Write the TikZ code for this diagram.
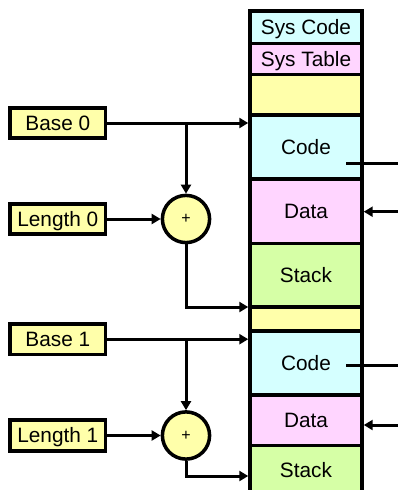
\documentclass[tikz,border=0pt]{standalone}
\usepackage{fontspec}
\setmainfont{Liberation Sans}
\usetikzlibrary{calc}
\usetikzlibrary{arrows.meta}

\definecolor{codefill}{RGB}{213,255,255}
\definecolor{datafill}{RGB}{255,213,255}
\definecolor{freefill}{RGB}{255,255,170}
\definecolor{stackfill}{RGB}{214,255,166}

\tikzset{
  seg/.style={draw, line width=3.75pt, minimum width=111.7pt, inner sep=0pt,
    text height=14.9pt, text depth=0pt, font=\fontsize{20.8}{24}\selectfont},
  reg/.style={draw, line width=3.75pt, fill=freefill, minimum width=95.2pt,
    minimum height=30.5pt, inner sep=0pt, text height=14.9pt, text depth=0pt,
    font=\fontsize{20.8}{24}\selectfont},
  adder/.style={circle, draw, line width=3.5pt, fill=freefill, minimum size=47.2pt,
    inner sep=0pt, font=\fontsize{16}{18}\selectfont},
  link/.style={line width=3pt},
  arr/.style={link, -{Triangle[length=9pt,width=10pt]}},
}

\begin{document}
\begin{tikzpicture}[x=1pt,y=-1pt]
    \useasboundingbox (0,0) rectangle (398,490);
    \clip (0,0) rectangle (398,490);
    % memory column
    \node[seg, fill=codefill,  minimum height=32.5pt] (syscode)  at (306,  27.25) {Sys Code};
    \node[seg, fill=datafill,  minimum height=31pt]   (systable) at (306,  59)    {Sys Table};
    \node[seg, fill=freefill,  minimum height=40.5pt] (free0)    at (306,  94.75) {};
    \node[seg, fill=codefill,  minimum height=63.7pt] (code0)    at (306, 146.85) {Code};
    \node[seg, fill=datafill,  minimum height=64.8pt] (data0)    at (306, 211.1)  {Data};
    \node[seg, fill=stackfill, minimum height=63.5pt] (stack0)   at (306, 275.25) {Stack};
    \node[seg, fill=freefill,  minimum height=24pt]   (free1)    at (306, 319)    {};
    \node[seg, fill=codefill,  minimum height=63.7pt] (code1)    at (306, 362.85) {Code};
    \node[seg, fill=datafill,  minimum height=50.8pt] (data1)    at (306, 420.1)  {Data};
    \node[seg, fill=stackfill, minimum height=49pt]   (stack1)   at (306, 470)    {Stack};
    % registers and adders
    \node[reg] (base0) at (57.8, 123)   {Base 0};
    \node[reg] (len0)  at (57.8, 219)   {Length 0};
    \node[reg] (base1) at (57.8, 339.2) {Base 1};
    \node[reg] (len1)  at (57.8, 435.5) {Length 1};
    \node[adder] (sum0) at (186, 219)   {+};
    \node[adder] (sum1) at (186, 435.5) {+};
    % free ends on the right
    \coordinate (from0) at (346, 163.3);
    \coordinate (out0)  at (398, 163.3);
    \coordinate (in0)   at (398, 211.7);
    \coordinate (from1) at (346, 365.7);
    \coordinate (out1)  at (398, 365.7);
    \coordinate (in1)   at (398, 425);
    \coordinate (lim0)  at ($(stack0.south west)!.5!(free1.north west)$);
    % segment 0
    \draw[arr] (base0.east) -- (base0.east -| code0.west);
    \draw[arr] (base0.east -| sum0) -- (sum0.north);
    \draw[arr] (len0.east) -- (len0.east -| sum0.west);
    \draw[arr] (sum0.south) |- (lim0);
    \draw[link] (from0) -- (out0);
    \draw[arr] (in0) -- (in0 -| data0.east);
    % segment 1
    \draw[arr] (base1.east) -- (base1.east -| code1.west);
    \draw[arr] (base1.east -| sum1) -- (sum1.north);
    \draw[arr] (len1.east) -- (len1.east -| sum1.west);
    \draw[arr] (sum1.south) |- ([yshift=-6pt]stack1.west);
    \draw[link] (from1) -- (out1);
    \draw[arr] (in1) -- (in1 -| data1.east);
\end{tikzpicture}
\end{document}
